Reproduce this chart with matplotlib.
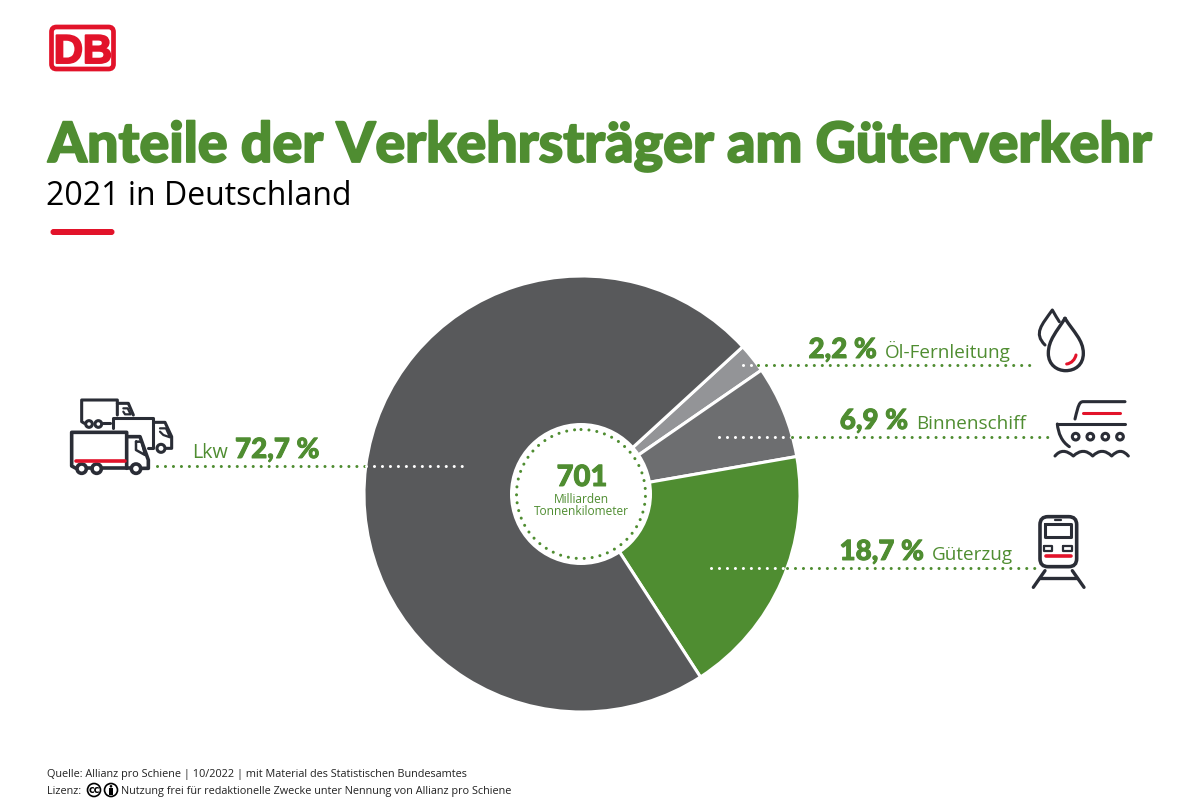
import numpy as np
import matplotlib
matplotlib.use("Agg")
import matplotlib.pyplot as plt
import matplotlib.patheffects as pe
from matplotlib.patches import Circle, FancyBboxPatch, PathPatch, Rectangle
from matplotlib.path import Path

# chart data
categories = ["Öl-Fernleitung", "Binnenschiff", "Güterzug", "Lkw"]
shares = [2.2, 6.9, 18.7, 72.7]
share_labels = ["2,2 %", "6,9 %", "18,7 %", "72,7 %"]
total_value = "701"
total_unit = ["Milliarden", "Tonnenkilometer"]

title = "Anteile der Verkehrsträger am Güterverkehr"
subtitle = "2021 in Deutschland"
source = "Quelle: Allianz pro Schiene | 10/2022 | mit Material des Statistischen Bundesamtes"
license_pre = "Lizenz:"
license_txt = "Nutzung frei für redaktionelle Zwecke unter Nennung von Allianz pro Schiene"

GREEN = "#4f8d31"
RED = "#e2132a"
DARK = "#2a2d36"
slice_colors = ["#939497", "#6d6e70", GREEN, "#58595b"]

W, H = 1200, 800
CX, CY, R = 582, 494, 218

fig = plt.figure(figsize=(12, 8), dpi=100)
ax = fig.add_axes([0, 0, 1, 1])
ax.set_xlim(0, W)
ax.set_ylim(H, 0)
ax.axis("off")

# pie sits on its own axes, placed by pixel box
pie_ax = fig.add_axes([(CX - R) / W, 1 - (CY + R) / H, 2 * R / W, 2 * R / H])
pie_ax.pie(shares, colors=slice_colors, startangle=42.5, counterclock=False, radius=1,
           wedgeprops={"edgecolor": "white", "linewidth": 2.2})
pie_ax.set_xlim(-1, 1)
pie_ax.set_ylim(-1, 1)
pie_ax.patch.set_alpha(0)

# overlay for everything on top of the pie
top = fig.add_axes([0, 0, 1, 1])
top.set_xlim(0, W)
top.set_ylim(H, 0)
top.axis("off")
top.patch.set_alpha(0)

top.add_patch(Circle((581, 494), 71, fc="white", ec="none"))
DOT = {"lw": 2.2, "ls": (0, (0.01, 2.6)), "dash_capstyle": "round"}
t = np.linspace(-np.pi / 2, 1.5 * np.pi, 200)
top.plot(581 + 64.5 * np.cos(t), 494 + 64.5 * np.sin(t), color=GREEN, **DOT)


def leader(x0, x1, y):
    # part of the dotted line over the pie is white
    edge = np.sqrt(R ** 2 - (y - CY) ** 2)
    if x0 < CX:
        top.plot([x0, CX - edge], [y, y], color=GREEN, **DOT)
        top.plot([CX - edge, x1], [y, y], color="white", **DOT)
    else:
        top.plot([x0, CX + edge], [y, y], color="white", **DOT)
        top.plot([CX + edge, x1], [y, y], color=GREEN, **DOT)


leader(157, 465, 466)
leader(743, 1035, 365)
leader(719, 1050, 437)
leader(711, 1036, 568)


def heavy(width):
    # Lato bold thickened to get near the black cut
    return [pe.withStroke(linewidth=width, foreground=GREEN)]


BLACK = {"family": "Lato", "weight": 900, "color": GREEN}
LIGHT = {"family": "Open Sans", "color": GREEN}

top.text(48, 162, title, fontsize=40, va="baseline", path_effects=heavy(1.3), **BLACK)
top.text(46, 205, subtitle, fontsize=23, family="Open Sans", color="black", va="baseline")
top.add_patch(FancyBboxPatch((50.5, 229), 64, 6, boxstyle="round,pad=0,rounding_size=3", fc=RED, ec="none"))

# labels
top.text(192, 458, categories[3], fontsize=14.2, va="baseline", **LIGHT)
top.text(235, 458, share_labels[3], fontsize=20, va="baseline", path_effects=heavy(0.7), **BLACK)
top.text(877, 358, share_labels[0], fontsize=20, va="baseline", ha="right", path_effects=heavy(0.7), **BLACK)
top.text(885, 358, categories[0], fontsize=13.6, va="baseline", **LIGHT)
top.text(908, 429, share_labels[1], fontsize=20, va="baseline", ha="right", path_effects=heavy(0.7), **BLACK)
top.text(916, 429, categories[1], fontsize=13.6, va="baseline", **LIGHT)
top.text(924, 560, share_labels[2], fontsize=20, va="baseline", ha="right", path_effects=heavy(0.7), **BLACK)
top.text(932, 560, categories[2], fontsize=13.6, va="baseline", **LIGHT)

top.text(582, 486, total_value, fontsize=21, va="baseline", ha="center", path_effects=heavy(0.7), **BLACK)
top.text(581, 503, total_unit[0], fontsize=8.6, va="baseline", ha="center", **LIGHT)
top.text(581, 515, total_unit[1], fontsize=8.6, va="baseline", ha="center", **LIGHT)

# footer
top.text(47, 777, source, fontsize=7.82, family="Open Sans", color="#222222", va="baseline")
top.text(47, 794, license_pre, fontsize=7.82, family="Open Sans", color="#222222", va="baseline")
top.text(121, 794, license_txt, fontsize=7.82, family="Open Sans", color="#222222", va="baseline")
top.add_patch(Circle((94, 790), 6.5, fc="white", ec="black", lw=1.2))
top.text(94, 790, "cc", fontsize=7, weight="bold", ha="center", va="center", family="DejaVu Sans")
top.add_patch(Circle((111, 790), 6.5, fc="white", ec="black", lw=1.2))
top.add_patch(Circle((111, 786.3), 1.3, fc="black", ec="none"))
top.add_patch(Rectangle((109.2, 788), 3.6, 7, fc="black", ec="none"))

# DB logo
top.add_patch(FancyBboxPatch((51.5, 27), 62, 42, boxstyle="round,pad=0,rounding_size=5", fc="white", ec=RED, lw=3.4))
top.text(83, 48, "DB", fontsize=29, family="Liberation Sans", weight="bold", color=RED, ha="center",
         va="center_baseline", path_effects=[pe.withStroke(linewidth=1.4, foreground=RED)])


def line(ox, oy, pts, color=DARK, lw=2.2, closed=False):
    xs = [ox + p[0] / 3 for p in pts]
    ys = [oy + p[1] / 3 for p in pts]
    if closed:
        xs.append(xs[0])
        ys.append(ys[0])
    top.plot(xs, ys, color=color, lw=lw, solid_capstyle="round", solid_joinstyle="round")


def ring(ox, oy, x, y, r, lw=2.2):
    top.add_patch(Circle((ox + x / 3, oy + y / 3), r / 3, fc="white", ec=DARK, lw=lw))


def curve(ox, oy, verts, codes, color=DARK, lw=2.2):
    v = [(ox + p[0] / 3, oy + p[1] / 3) for p in verts]
    top.add_patch(PathPatch(Path(v, codes), fc="none", ec=color, lw=lw, capstyle="round", joinstyle="round"))


# trucks
a, b = 30, 380
line(a, b, [(262, 105), (262, 60), (155, 60), (155, 125), (163, 130)])
line(a, b, [(262, 70), (295, 70), (310, 105)])
line(a, b, [(280, 85), (293, 85), (302, 103), (285, 103), (280, 95)], lw=1.6)
line(a, b, [(218, 130), (240, 130)])
ring(a, b, 177, 132, 10)
ring(a, b, 205, 132, 10)
line(a, b, [(248, 145), (248, 115), (370, 115), (370, 205), (355, 205)])
line(a, b, [(372, 127), (405, 127), (425, 170), (425, 205), (408, 205)])
line(a, b, [(390, 145), (408, 145), (420, 172), (400, 165), (390, 155)], lw=1.6)
ring(a, b, 393, 205, 12)
line(a, b, [(290, 265), (290, 157), (125, 157), (125, 258), (138, 265)], lw=2.6)
line(a, b, [(170, 265), (185, 265)], lw=2.6)
line(a, b, [(215, 265), (302, 265)], lw=2.6)
line(a, b, [(292, 170), (330, 170), (355, 240), (355, 265), (335, 265)], lw=2.6)
line(a, b, [(318, 185), (335, 185), (345, 225), (318, 210)], lw=1.8, closed=True)
line(a, b, [(138, 243), (285, 243)], color=RED, lw=2.6)
ring(a, b, 155, 266, 14, lw=2.6)
ring(a, b, 200, 266, 14, lw=2.6)
ring(a, b, 318, 266, 14, lw=2.6)

# drops
a, b = 800, 300
C4 = Path.CURVE4
M = Path.MOVETO
L = Path.LINETO
curve(a, b, [(735, 135), (700, 100), (725, 75), (757, 30), (765, 45), (772, 55), (778, 65)],
      [M, C4, C4, C4, C4, C4, C4])
curve(a, b, [(795, 55), (770, 95), (745, 120), (745, 160), (745, 195), (772, 212), (797, 212),
             (825, 212), (850, 195), (850, 160), (850, 120), (820, 95), (795, 55)],
      [M, C4, C4, C4, C4, C4, C4, C4, C4, C4, C4, C4, C4], lw=2.4)
curve(a, b, [(800, 192), (815, 190), (825, 178), (828, 165)], [M, C4, C4, C4], color=RED)

# ship
curve(a, b, [(975, 305), (850, 305), (838, 305), (835, 315), (825, 357)], [M, L, C4, C4, C4])
line(a, b, [(850, 340), (960, 340)], color=RED)
line(a, b, [(772, 372), (975, 372)])
curve(a, b, [(772, 372), (775, 400), (785, 425), (808, 440)], [M, C4, C4, C4])
for px in [827, 871, 916, 960]:
    ring(a, b, px, 410, 10)
Q = Path.CURVE3
curve(a, b, [(765, 468), (788, 440), (820, 468), (850, 440), (878, 468), (906, 440), (935, 468), (962, 440), (985, 468)],
      [M, Q, Q, Q, Q, Q, Q, Q, Q])

# train
a, b = 820, 500
top.add_patch(FancyBboxPatch((a + 660 / 3, b + 50 / 3), 110 / 3, 150 / 3, boxstyle="round,pad=0,rounding_size=8",
                             fc="white", ec=DARK, lw=2.6))
line(a, b, [(675, 72), (752, 72), (752, 112), (675, 112)], closed=True)
line(a, b, [(705, 60), (722, 60)], lw=1.6)
line(a, b, [(672, 138), (697, 138), (697, 152), (672, 152)], lw=1.6, closed=True)
line(a, b, [(728, 138), (755, 138), (755, 152), (728, 152)], lw=1.6, closed=True)
line(a, b, [(678, 168), (752, 168)], color=RED, lw=2.6)
line(a, b, [(675, 212), (640, 262)], lw=2.4)
line(a, b, [(757, 212), (792, 262)], lw=2.4)
line(a, b, [(660, 235), (772, 235)], lw=2.4)

fig.savefig("out.png", dpi=100)
